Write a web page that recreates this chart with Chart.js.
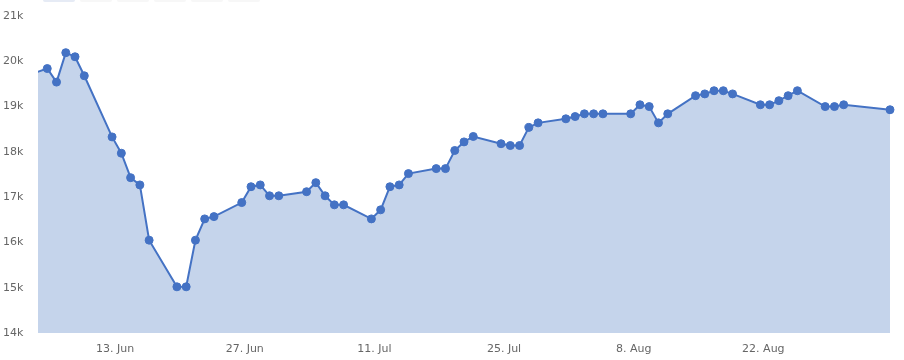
<!DOCTYPE html>
<html>
<head>
<meta charset="utf-8">
<script src="https://cdn.jsdelivr.net/npm/chart.js@4.4.1/dist/chart.umd.min.js"></script>
<style>
    body { margin: 0; background: #fff; }
    #wrap { position: relative; width: 904px; height: 360px; }
    .rs-btn { position: absolute; top: -2px; height: 4px; width: 32px; border-radius: 2px; background: #f7f7f7; }
</style>
</head>
<body>
<div id="wrap">
    <div class="rs-btn" style="left:43px;background:#e6ebf5"></div>
    <div class="rs-btn" style="left:80px"></div>
    <div class="rs-btn" style="left:117px"></div>
    <div class="rs-btn" style="left:154px"></div>
    <div class="rs-btn" style="left:191px"></div>
    <div class="rs-btn" style="left:228px"></div>
    <canvas id="priceChart"></canvas>
</div>
<script>
// daily closes, 2016 (weekdays only, some days missing)
var dates = [
    '06-03', '06-06', '06-07', '06-08', '06-09', '06-10',
    '06-13', '06-14', '06-15', '06-16', '06-17',
    '06-20', '06-21', '06-22', '06-23', '06-24',
    '06-27', '06-28', '06-29', '06-30', '07-01',
    '07-04', '07-05', '07-06', '07-07', '07-08',
    '07-11', '07-12', '07-13', '07-14', '07-15',
    '07-18', '07-19', '07-20', '07-21', '07-22',
    '07-25', '07-26', '07-27', '07-28', '07-29',
    '08-01', '08-02', '08-03', '08-04', '08-05',
    '08-08', '08-09', '08-10', '08-11', '08-12',
    '08-15', '08-16', '08-17', '08-18', '08-19',
    '08-22', '08-23', '08-24', '08-25', '08-26',
    '08-29', '08-30', '08-31', '09-05'
];
var values = [
    19630, 19840, 19540, 20190, 20100, 19680,
    18330, 17970, 17430, 17270, 16050,
    15020, 15020, 16050, 16520, 16570,
    16880, 17230, 17270, 17030, 17030,
    17120, 17320, 17030, 16830, 16830,
    16520, 16720, 17230, 17270, 17520,
    17630, 17630, 18030, 18220, 18340,
    18180, 18140, 18140, 18540, 18640,
    18730, 18780, 18840, 18840, 18840,
    18840, 19040, 19000, 18640, 18840,
    19240, 19280, 19350, 19350, 19280,
    19040, 19040, 19130, 19240, 19350,
    19000, 19000, 19040, 18930
];
var xTickLabels = ['13. Jun', '27. Jun', '11. Jul', '25. Jul', '8. Aug', '22. Aug'];
var yTickValues = [14000, 15000, 16000, 17000, 18000, 19000, 20000, 21000];

// x axis is days counted from 13 Jun (a Monday), so ticks every 14 days fall on the labels above
var baseDay = Date.UTC(2016, 5, 13);
function dayOffset(md) {
    var p = md.split('-');
    return Math.round((Date.UTC(2016, parseInt(p[0]) - 1, parseInt(p[1])) - baseDay) / 86400000);
}
var points = dates.map(function(d, i) {
    return { x: dayOffset(d), y: values[i] };
});

var labelFont = { family: 'DejaVu Sans', size: 11 };
var ctx = document.getElementById('priceChart').getContext('2d');
new Chart(ctx, {
    type: 'line',
    data: {
        datasets: [{
            data: points,
            borderColor: '#4472c4',
            backgroundColor: '#c5d4eb',
            borderWidth: 2,
            fill: 'start',
            tension: 0,
            pointRadius: 4,
            pointBorderWidth: 1,
            pointBackgroundColor: '#4472c4',
            pointBorderColor: '#4472c4',
            clip: { left: 0, top: 8, right: 8, bottom: 0 }
        }]
    },
    options: {
        responsive: true,
        maintainAspectRatio: false,
        animation: false,
        layout: { padding: { top: 16, right: 14, left: 3, bottom: 0 } },
        plugins: {
            legend: { display: false },
            tooltip: { enabled: false }
        },
        scales: {
            x: {
                type: 'linear',
                min: -8,
                max: 84,
                grid: { display: false, drawTicks: false },
                border: { display: false },
                ticks: {
                    stepSize: 14,
                    includeBounds: false,
                    maxRotation: 0,
                    autoSkip: false,
                    padding: 10,
                    labelOffset: 3,
                    color: '#666',
                    font: labelFont,
                    callback: function(value) {
                        var lbl = xTickLabels[value / 14];
                        return lbl === undefined ? null : lbl;
                    }
                },
                afterFit: function(scale) { scale.height = 27; }
            },
            y: {
                min: yTickValues[0],
                max: yTickValues[yTickValues.length - 1],
                grid: { display: false, drawTicks: false },
                border: { display: false },
                afterBuildTicks: function(scale) {
                    scale.ticks = yTickValues.map(function(v) { return { value: v }; });
                },
                ticks: {
                    padding: 0,
                    crossAlign: 'far',
                    color: '#666',
                    font: labelFont,
                    callback: function(value) { return (value / 1000) + 'k'; }
                },
                afterFit: function(scale) { scale.width = 35; }
            }
        }
    }
});
</script>
</body>
</html>
